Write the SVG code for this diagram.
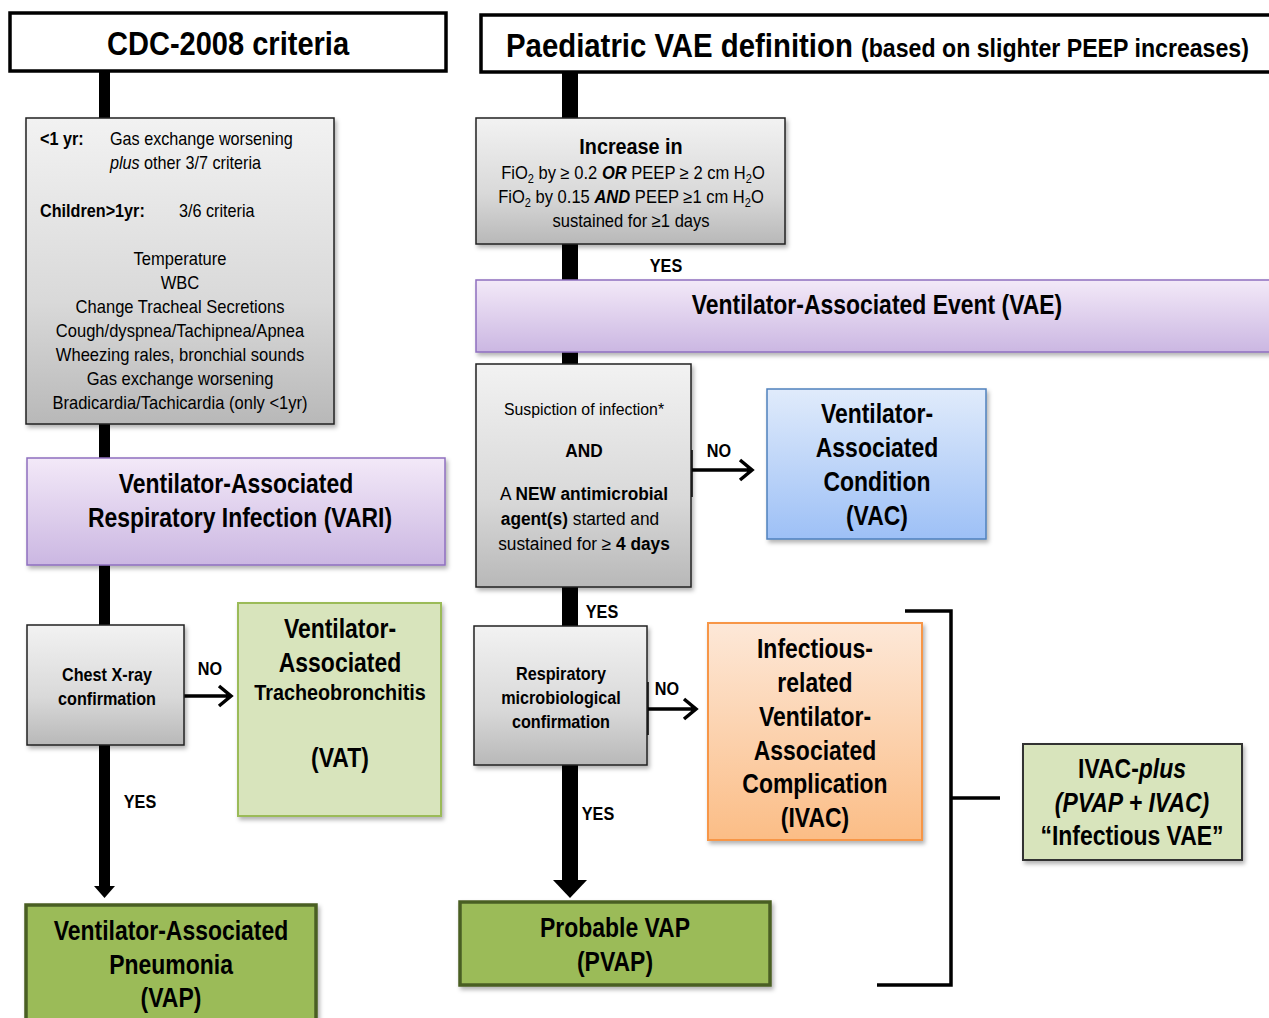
<svg xmlns="http://www.w3.org/2000/svg" width="1269" height="1018" viewBox="0 0 1269 1018">
<defs>
<linearGradient id="gGray" x1="0" y1="0" x2="0" y2="1"><stop offset="0" stop-color="#f2f2f2"/><stop offset="0.6" stop-color="#d9d9d9"/><stop offset="1" stop-color="#b8b8b8"/></linearGradient>
<linearGradient id="gPurple" x1="0" y1="0" x2="0" y2="1"><stop offset="0" stop-color="#f3e9f8"/><stop offset="1" stop-color="#cbb7e2"/></linearGradient>
<linearGradient id="gBlue" x1="0" y1="0" x2="0" y2="1"><stop offset="0" stop-color="#e0ebfb"/><stop offset="1" stop-color="#9dc0f6"/></linearGradient>
<linearGradient id="gOrange" x1="0" y1="0" x2="0" y2="1"><stop offset="0" stop-color="#fde8d8"/><stop offset="1" stop-color="#fbbd86"/></linearGradient>
<filter id="sh" x="-10%" y="-10%" width="125%" height="125%"><feDropShadow dx="2" dy="3" stdDeviation="2" flood-color="#000" flood-opacity="0.3"/></filter>
<style>
text{font-family:"Liberation Sans",Arial,sans-serif;fill:#000;transform-box:fill-box;transform-origin:center}
.l{transform-origin:left center}
.b{font-weight:bold}
.c{text-anchor:middle}
.t18{font-size:18px}
.t16{font-size:16.5px}
.t27{font-size:27px;font-weight:bold;text-anchor:middle;transform:scaleX(0.85)}
.n90{transform:scaleX(0.9)}
.n92{transform:scaleX(0.92)}
.n96{transform:scaleX(0.96)}
.gray{fill:url(#gGray);stroke:#222;stroke-width:1.5;filter:url(#sh)}
.purple{fill:url(#gPurple);stroke:#8e6fbf;stroke-width:1.5;filter:url(#sh)}
.green{fill:#9bbb59;stroke:#4a5e24;stroke-width:3.5;filter:url(#sh)}
.lgreen{fill:#d8e4bc;stroke:#9bbb59;stroke-width:2;filter:url(#sh)}
.hdr{fill:#fff;stroke:#000;stroke-width:3.5}
.bar{fill:#000}
.ln{stroke:#000;stroke-width:3.5;fill:none}
</style>
</defs>

<g id="connectors">
  <rect class="bar" x="99" y="71" width="11" height="48"/>
  <rect class="bar" x="99" y="424" width="11" height="35"/>
  <rect class="bar" x="99" y="565" width="11" height="61"/>
  <rect class="bar" x="99" y="745" width="11" height="142"/>
  <polygon class="bar" points="94,886 115,886 104.5,898"/>
  <rect class="bar" x="562" y="72" width="16" height="47"/>
  <rect class="bar" x="562" y="244" width="16" height="37"/>
  <rect class="bar" x="562" y="352" width="16" height="13"/>
  <rect class="bar" x="562" y="587" width="16" height="40"/>
  <rect class="bar" x="562" y="765" width="16" height="116"/>
  <polygon class="bar" points="553,880 587,880 570,898"/>
  <path class="ln" d="M184 696 H230 M219 686 L231 696 L219 706"/>
  <path class="ln" d="M691 450 V497 M691 470 H751 M740 460 L752 470 L740 480"/>
  <path class="ln" d="M647 682 V735 M647 709 H695 M684 699 L696 709 L684 719"/>
  <path class="ln" d="M905 611 H951 V985 H877 M951 798 H1000"/>
  <text class="b t18 c n90" x="210" y="675">NO</text>
  <text class="b t18 c n90" x="140" y="808">YES</text>
  <text class="b t18 c n90" x="666" y="272">YES</text>
  <text class="b t18 c n90" x="719" y="457">NO</text>
  <text class="b t18 c n90" x="602" y="618">YES</text>
  <text class="b t18 c n90" x="667" y="695">NO</text>
  <text class="b t18 c n90" x="598" y="820">YES</text>
</g>

<g id="cdc-header">
  <rect class="hdr" x="10" y="13" width="436" height="58"/>
  <text class="b c" x="228" y="55" font-size="33" style="transform:scaleX(0.88)">CDC-2008 criteria</text>
</g>

<g id="paed-header">
  <rect class="hdr" x="481" y="15" width="800" height="57"/>
  <text class="b l" x="506" y="57" font-size="33" style="transform:scaleX(0.89)">Paediatric VAE definition <tspan font-size="26">(based on slighter PEEP increases)</tspan></text>
</g>

<g id="criteria">
  <rect class="gray" x="26" y="118" width="308" height="306"/>
  <text class="t18 b l n90" x="40" y="145">&lt;1 yr:</text>
  <text class="t18 l n90" x="110" y="145">Gas exchange worsening</text>
  <text class="t18 l n90" x="110" y="169"><tspan font-style="italic">plus</tspan> other 3/7 criteria</text>
  <text class="t18 b l n90" x="40" y="217">Children&gt;1yr:</text>
  <text class="t18 l n90" x="179" y="217">3/6 criteria</text>
  <text class="t18 c n92" x="180" y="265">Temperature</text>
  <text class="t18 c n92" x="180" y="289">WBC</text>
  <text class="t18 c n92" x="180" y="313">Change Tracheal Secretions</text>
  <text class="t18 c n92" x="180" y="337">Cough/dyspnea/Tachipnea/Apnea</text>
  <text class="t18 c n92" x="180" y="361">Wheezing rales, bronchial sounds</text>
  <text class="t18 c n92" x="180" y="385">Gas exchange worsening</text>
  <text class="t18 c n92" x="180" y="409">Bradicardia/Tachicardia (only &lt;1yr)</text>
</g>

<g id="vari">
  <rect class="purple" x="27" y="458" width="418" height="107"/>
  <text class="t27" x="236" y="493">Ventilator-Associated</text>
  <text class="t27" x="240" y="527">Respiratory Infection (VARI)</text>
</g>

<g id="chest">
  <rect class="gray" x="27" y="625" width="157" height="120"/>
  <text class="t18 b c n90" x="107" y="681">Chest X-ray</text>
  <text class="t18 b c n90" x="107" y="705">confirmation</text>
</g>

<g id="vat">
  <rect class="lgreen" x="238" y="603" width="203" height="213"/>
  <text class="t27" x="340" y="638">Ventilator-</text>
  <text class="t27" x="340" y="672">Associated</text>
  <text class="b c n90" x="340" y="700" font-size="22">Tracheobronchitis</text>
  <text class="t27" x="340" y="767">(VAT)</text>
</g>

<g id="vap">
  <rect class="green" x="26" y="905" width="290" height="125"/>
  <text class="t27" x="171" y="940">Ventilator-Associated</text>
  <text class="t27" x="171" y="974">Pneumonia</text>
  <text class="t27" x="171" y="1007">(VAP)</text>
</g>

<g id="increase">
  <rect class="gray" x="476" y="118" width="309" height="126"/>
  <text class="b c n90" x="631" y="154" font-size="22">Increase in</text>
  <text class="t18 c n92" x="633" y="179">FiO<tspan font-size="12" dy="4">2</tspan><tspan dy="-4"> by ≥ 0.2 </tspan><tspan font-weight="bold" font-style="italic">OR</tspan> PEEP ≥ 2 cm H<tspan font-size="12" dy="4">2</tspan><tspan dy="-4">O</tspan></text>
  <text class="t18 c n92" x="631" y="203">FiO<tspan font-size="12" dy="4">2</tspan><tspan dy="-4"> by 0.15 </tspan><tspan font-weight="bold" font-style="italic">AND</tspan> PEEP ≥1 cm H<tspan font-size="12" dy="4">2</tspan><tspan dy="-4">O</tspan></text>
  <text class="t18 c n92" x="631" y="227">sustained for ≥1 days</text>
</g>

<g id="vae">
  <rect class="purple" x="476" y="280" width="810" height="72"/>
  <text class="t27" x="877" y="314">Ventilator-Associated Event (VAE)</text>
</g>

<g id="suspicion">
  <rect class="gray" x="476" y="364" width="215" height="223"/>
  <text class="t16 c n96" x="584" y="415">Suspiction of infection*</text>
  <text class="t18 b c n96" x="584" y="457">AND</text>
  <text class="t18 c n96" x="584" y="500">A <tspan font-weight="bold">NEW antimicrobial</tspan></text>
  <text class="t18 c n96" x="580" y="525"><tspan font-weight="bold">agent(s)</tspan> started and</text>
  <text class="t18 c n96" x="584" y="550">sustained for ≥ <tspan font-weight="bold">4 days</tspan></text>
</g>

<g id="vac">
  <rect x="767" y="389" width="219" height="150" fill="url(#gBlue)" stroke="#4f81bd" stroke-width="1.5" filter="url(#sh)"/>
  <text class="t27" x="877" y="423">Ventilator-</text>
  <text class="t27" x="877" y="457">Associated</text>
  <text class="t27" x="877" y="491">Condition</text>
  <text class="t27" x="877" y="525">(VAC)</text>
</g>

<g id="resp">
  <rect class="gray" x="474" y="626" width="173" height="139"/>
  <text class="t18 b c n90" x="561" y="680">Respiratory</text>
  <text class="t18 b c n90" x="561" y="704">microbiological</text>
  <text class="t18 b c n90" x="561" y="728">confirmation</text>
</g>

<g id="ivac">
  <rect x="708" y="623" width="214" height="217" fill="url(#gOrange)" stroke="#f79646" stroke-width="2" filter="url(#sh)"/>
  <text class="t27" x="815" y="658">Infectious-</text>
  <text class="t27" x="815" y="692">related</text>
  <text class="t27" x="815" y="726">Ventilator-</text>
  <text class="t27" x="815" y="760">Associated</text>
  <text class="t27" x="815" y="793">Complication</text>
  <text class="t27" x="815" y="827">(IVAC)</text>
</g>

<g id="pvap">
  <rect class="green" x="460" y="902" width="310" height="83"/>
  <text class="t27" x="615" y="937">Probable VAP</text>
  <text class="t27" x="615" y="971">(PVAP)</text>
</g>

<g id="ivac-plus">
  <rect x="1023" y="744" width="219" height="116" fill="#d8e4bc" stroke="#333" stroke-width="2" filter="url(#sh)"/>
  <text class="t27" x="1132" y="778">IVAC-<tspan font-style="italic">plus</tspan></text>
  <text class="t27" x="1132" y="812" font-style="italic">(PVAP + IVAC)</text>
  <text class="t27" x="1132" y="845">“Infectious VAE”</text>
</g>
</svg>
